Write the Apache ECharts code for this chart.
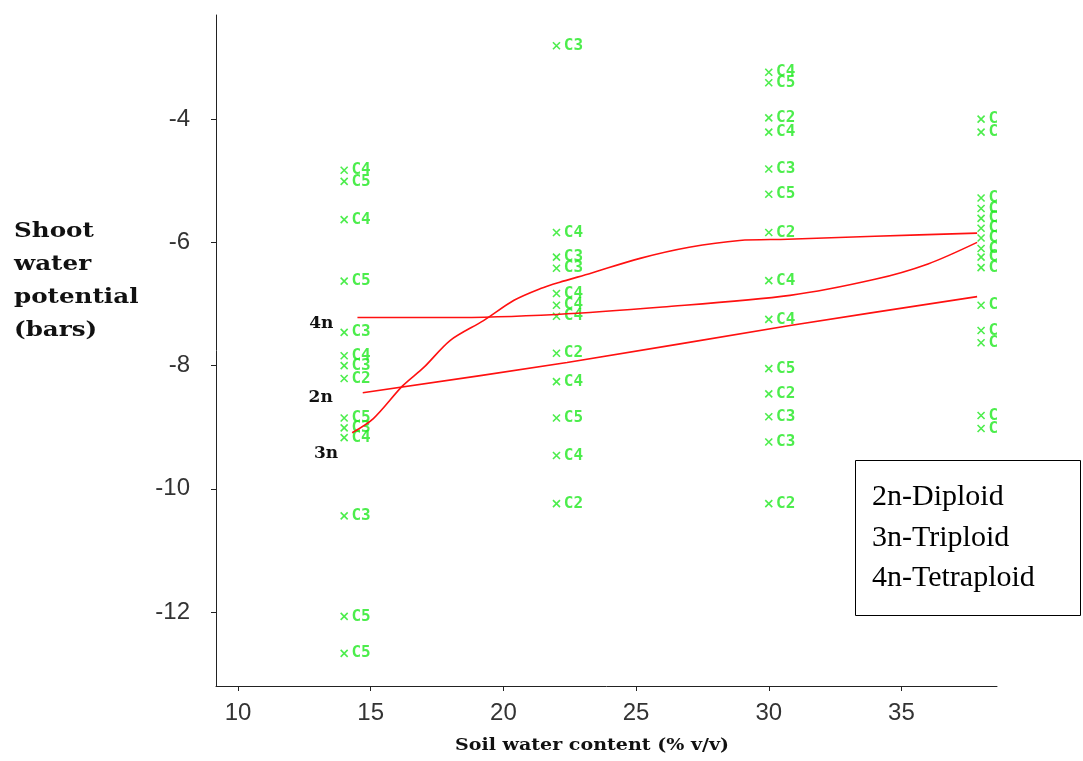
<!DOCTYPE html>
<html>
<head>
<meta charset="utf-8">
<script src="https://cdn.jsdelivr.net/npm/echarts@6/dist/echarts.min.js"></script>
<style>html,body{margin:0;padding:0;background:#fff}#c{width:1083px;height:761px}</style>
</head>
<body>
<div id="c"></div>
<script>
// ---- data ----
const xTicks = [10, 15, 20, 25, 30, 35];
const yTicks = [-12, -10, -8, -6, -4];

const x14 = 14;
const y14 = [-4.83, -5.01, -5.63, -6.63, -7.46, -7.84, -8.0, -8.21, -8.85, -9.01, -9.17, -10.44, -12.07, -12.67];
const l14 = ['C4', 'C5', 'C4', 'C5', 'C3', 'C4', 'C3', 'C2', 'C5', 'C3', 'C4', 'C3', 'C5', 'C5'];

const x22 = 22;
const y22 = [-2.81, -5.84, -6.24, -6.42, -6.83, -7.02, -7.2, -7.8, -8.26, -8.85, -9.46, -10.24];
const l22 = ['C3', 'C4', 'C3', 'C3', 'C4', 'C4', 'C4', 'C2', 'C4', 'C5', 'C4', 'C2'];

const x30 = 30;
const y30 = [-3.24, -3.41, -3.98, -4.21, -4.81, -5.22, -5.84, -6.62, -7.25, -8.05, -8.46, -8.83, -9.24, -10.24];
const l30 = ['C4', 'C5', 'C2', 'C4', 'C3', 'C5', 'C2', 'C4', 'C4', 'C5', 'C2', 'C3', 'C3', 'C2'];

const x38 = 38;
const y38 = [-4.0, -4.21, -5.28, -5.45, -5.61, -5.77, -5.93, -6.1, -6.24, -6.41, -7.02, -7.43, -7.63, -8.81, -9.02];
const l38 = ['C', 'C', 'C', 'C', 'C', 'C', 'C', 'C', 'C', 'C', 'C', 'C', 'C', 'C', 'C'];

const x3n = [14.3, 15.1, 16.2, 17.0, 18.0, 19.25, 20.4, 21.4, 22.1, 23.3, 25.15, 27.0, 28.9, 30.7, 34.0, 37.85];
const y3n = [-9.09, -8.86, -8.33, -8.03, -7.59, -7.27, -6.94, -6.75, -6.65, -6.5, -6.26, -6.08, -5.97, -5.95, -5.9, -5.85];
const x4n = [14.5, 17.9, 22.0, 26.0, 30.8, 34.0, 36.0, 37.85];
const y4n = [-7.22, -7.22, -7.17, -7.05, -6.86, -6.6, -6.35, -6.0];
const x2n = [14.7, 22.4, 30.8, 37.85];
const y2n = [-8.44, -7.95, -7.35, -6.88];

const legendLines = ['2n-Diploid', '3n-Triploid', '4n-Tetraploid'];

// ---- build ----
const GREEN = '#1fe81f';
const pts = [];
[[x14, y14, l14], [x22, y22, l22], [x30, y30, l30], [x38, y38, l38]].forEach(([x, ys, ls]) => {
  ys.forEach((y, i) => pts.push({ value: [x, y], name: ls[i] }));
});

function lineData(xs, ys, name, off) {
  return xs.map((x, i) => {
    const d = { value: [x, ys[i]] };
    if (i === 0) {
      d.label = { show: true, formatter: name, position: 'left', distance: off[0], offset: [0, off[1]],
        fontFamily: 'DejaVu Serif', fontWeight: 'bold', fontSize: 17, color: '#111' };
    }
    return d;
  });
}

const lineStyle = { color: '#ff1010', width: 1.6 };
const lineBase = { type: 'line', smooth: 0.3, showSymbol: true, symbol: 'circle', symbolSize: 0,
  itemStyle: { color: '#ff1010' }, lineStyle, z: 3, label: { show: false } };

const chart = echarts.init(document.getElementById('c'), null, { renderer: 'canvas' });
chart.setOption({
  animation: false,
  backgroundColor: '#fff',
  grid: { left: 216, right: 86, top: 15, bottom: 75, containLabel: false },
  xAxis: {
    type: 'value', min: 9.17, max: 38.6,
    splitLine: { show: false },
    axisLine: { show: true, onZero: false, lineStyle: { color: '#222', width: 1 } },
    axisTick: { show: true, length: 5, customValues: xTicks, lineStyle: { color: '#222' } },
    axisLabel: { customValues: xTicks, margin: 15, fontFamily: 'Liberation Sans', fontSize: 24, color: '#333' }
  },
  yAxis: {
    type: 'value', min: -13.2, max: -2.31,
    splitLine: { show: false },
    axisLine: { show: true, onZero: false, lineStyle: { color: '#222', width: 1 } },
    axisTick: { show: true, length: 5, customValues: yTicks, lineStyle: { color: '#222' } },
    axisLabel: { customValues: yTicks, margin: 26, fontFamily: 'Liberation Sans', fontSize: 24, color: '#333' }
  },
  series: [
    {
      type: 'scatter', data: pts,
      symbol: 'path://M0 0L10 10M10 0L0 10', symbolSize: 7,
      itemStyle: { color: 'transparent', borderColor: GREEN, borderWidth: 1.6 },
      label: { show: true, position: 'right', distance: 3, formatter: p => p.name,
        fontFamily: 'DejaVu Sans Mono', fontWeight: 'bold', fontSize: 16, color: GREEN }
    },
    Object.assign({}, lineBase, { data: lineData(x4n, y4n, '4n', [24, 6]) }),
    Object.assign({}, lineBase, { data: lineData(x2n, y2n, '2n', [30, 5]) }),
    Object.assign({}, lineBase, { data: lineData(x3n, y3n, '3n', [14, 21]) })
  ],
  graphic: [
    { type: 'text', x: 14, y: 215, scaleX: 1.23,
      style: { text: 'Shoot\nwater\npotential\n(bars)', font: 'bold 20px "DejaVu Serif"', lineHeight: 33, fill: '#111' } },
    { type: 'text', x: 455, y: 737, scaleX: 1.12,
      style: { text: 'Soil water content (% v/v)', font: 'bold 17px "DejaVu Serif"', fill: '#111' } },
    { type: 'rect', shape: { x: 855.5, y: 460.5, width: 225, height: 155 },
      style: { fill: '#fff', stroke: '#000', lineWidth: 1 }, z: 10 },
    { type: 'text', x: 872, y: 477, z: 11,
      style: { text: legendLines.join('\n'), font: '30px "Liberation Serif"', lineHeight: 40.5, fill: '#000' } }
  ]
});
</script>
</body>
</html>
